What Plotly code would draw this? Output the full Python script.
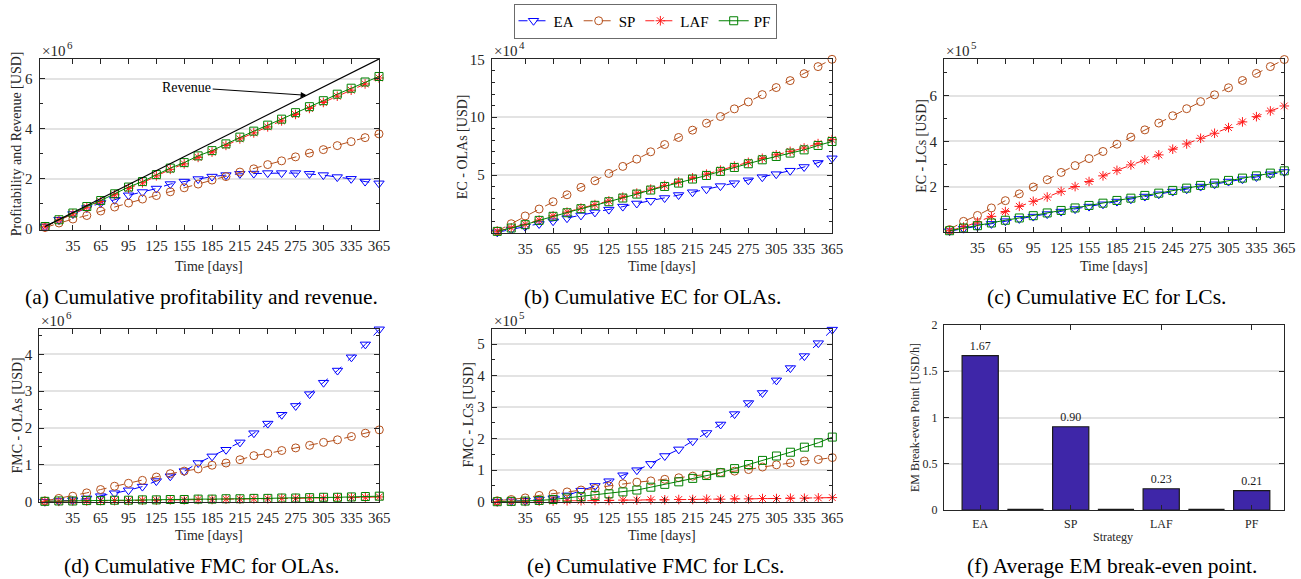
import plotly.graph_objects as go

W, H = 1301, 579
FONT = "Liberation Serif"

# ---------------- data ----------------
days = [5, 20, 35, 50, 65, 80, 95, 110, 125, 140, 155, 170, 185,
        200, 215, 230, 245, 260, 275, 290, 305, 320, 335, 350, 365]
day_ticks = [35, 65, 95, 125, 155, 185, 215, 245, 275, 305, 335, 365]
strategies = ["EA", "SP", "LAF", "PF"]

# (a) cumulative profitability, x10^6 USD
ea_a = [0.09, 0.36, 0.59, 0.83, 1.03, 1.16, 1.34, 1.47, 1.61, 1.79, 1.89, 1.99, 2.09,
        2.15, 2.20, 2.21, 2.23, 2.23, 2.23, 2.20, 2.15, 2.07, 2.00, 1.89, 1.82]
sp_a = [0.05, 0.23, 0.39, 0.53, 0.71, 0.87, 1.03, 1.19, 1.33, 1.48, 1.64, 1.79, 1.95,
        2.09, 2.27, 2.40, 2.57, 2.72, 2.88, 3.03, 3.17, 3.33, 3.49, 3.65, 3.80]
laf_a = [0.08, 0.34, 0.60, 0.86, 1.09, 1.36, 1.62, 1.84, 2.12, 2.38, 2.60, 2.86, 3.07,
         3.34, 3.60, 3.84, 4.08, 4.32, 4.58, 4.82, 5.06, 5.31, 5.55, 5.80, 6.04]
pf_a = [0.09, 0.36, 0.63, 0.89, 1.13, 1.40, 1.67, 1.89, 2.17, 2.43, 2.65, 2.92, 3.13,
        3.40, 3.67, 3.91, 4.15, 4.39, 4.65, 4.89, 5.13, 5.39, 5.63, 5.88, 6.10]
rev_days = [5, 365]
revenue = [0.09, 6.80]

# (b) cumulative EC for OLAs, x10^4 USD
ea_b = [0.06, 0.30, 0.55, 0.78, 1.02, 1.28, 1.52, 1.78, 2.02, 2.28, 2.55, 2.78, 3.02,
        3.28, 3.52, 3.78, 4.05, 4.30, 4.55, 4.82, 5.08, 5.38, 5.70, 6.05, 6.45]
sp_b = [0.17, 0.80, 1.47, 2.07, 2.70, 3.30, 3.94, 4.51, 5.14, 5.75, 6.38, 7.01, 7.64,
        8.25, 8.88, 9.48, 10.06, 10.72, 11.32, 11.95, 12.56, 13.16, 13.76, 14.37, 15.0]
laf_b = [0.15, 0.45, 0.75, 1.12, 1.48, 1.80, 2.15, 2.45, 2.77, 3.10, 3.44, 3.79, 4.11,
         4.41, 4.76, 5.08, 5.43, 5.78, 6.10, 6.45, 6.75, 7.05, 7.34, 7.72, 8.06]
pf_b = [0.14, 0.43, 0.72, 1.09, 1.44, 1.75, 2.10, 2.39, 2.70, 3.02, 3.36, 3.71, 4.02,
        4.31, 4.66, 4.97, 5.32, 5.66, 5.98, 6.32, 6.61, 6.90, 7.18, 7.56, 7.90]

# (c) cumulative EC for LCs, x10^5 USD
ea_c = [0.05, 0.16, 0.26, 0.37, 0.49, 0.59, 0.69, 0.80, 0.91, 1.02, 1.13, 1.23, 1.35,
        1.45, 1.57, 1.67, 1.79, 1.89, 2.01, 2.11, 2.23, 2.33, 2.43, 2.55, 2.65]
sp_c = [0.12, 0.48, 0.74, 1.07, 1.39, 1.69, 1.99, 2.31, 2.63, 2.93, 3.24, 3.55, 3.87,
        4.18, 4.50, 4.80, 5.12, 5.43, 5.74, 6.04, 6.35, 6.67, 6.98, 7.28, 7.59]
laf_c = [0.07, 0.23, 0.45, 0.70, 0.91, 1.14, 1.36, 1.55, 1.80, 2.01, 2.23, 2.48, 2.72,
         2.96, 3.18, 3.40, 3.65, 3.88, 4.13, 4.35, 4.60, 4.85, 5.08, 5.33, 5.55]
pf_c = [0.07, 0.19, 0.29, 0.41, 0.53, 0.63, 0.73, 0.85, 0.96, 1.07, 1.18, 1.28, 1.40,
        1.50, 1.62, 1.72, 1.84, 1.94, 2.06, 2.16, 2.28, 2.38, 2.48, 2.60, 2.70]

# (d) cumulative FMC for OLAs, x10^6 USD
ea_d = [0.00, 0.02, 0.04, 0.09, 0.15, 0.23, 0.31, 0.41, 0.56, 0.69, 0.83, 1.05, 1.23,
        1.41, 1.61, 1.86, 2.12, 2.36, 2.60, 2.92, 3.23, 3.56, 3.92, 4.27, 4.68]
sp_d = [0.02, 0.09, 0.15, 0.24, 0.33, 0.42, 0.50, 0.58, 0.67, 0.76, 0.83, 0.89, 0.99,
        1.05, 1.14, 1.25, 1.31, 1.39, 1.46, 1.53, 1.61, 1.68, 1.77, 1.86, 1.95]
laf_d = [0.01, 0.01, 0.02, 0.02, 0.03, 0.03, 0.03, 0.04, 0.04, 0.05, 0.05, 0.06, 0.06,
         0.07, 0.07, 0.08, 0.08, 0.09, 0.09, 0.10, 0.10, 0.11, 0.11, 0.12, 0.13]
pf_d = [0.01, 0.02, 0.02, 0.03, 0.03, 0.04, 0.04, 0.05, 0.05, 0.06, 0.06, 0.07, 0.07,
        0.08, 0.08, 0.09, 0.09, 0.10, 0.10, 0.11, 0.12, 0.12, 0.13, 0.14, 0.15]

# (e) cumulative FMC for LCs, x10^5 USD
ea_e = [0.00, 0.01, 0.03, 0.07, 0.11, 0.20, 0.35, 0.50, 0.65, 0.84, 1.00, 1.20, 1.45,
        1.66, 1.92, 2.18, 2.45, 2.78, 3.13, 3.45, 3.85, 4.24, 4.62, 5.03, 5.46]
sp_e = [0.03, 0.07, 0.12, 0.20, 0.25, 0.31, 0.37, 0.42, 0.50, 0.57, 0.62, 0.66, 0.71,
        0.76, 0.81, 0.86, 0.93, 0.97, 1.02, 1.10, 1.17, 1.23, 1.29, 1.34, 1.40]
laf_e = [0.00, 0.01, 0.01, 0.02, 0.02, 0.03, 0.03, 0.04, 0.04, 0.05, 0.05, 0.06, 0.06,
         0.07, 0.07, 0.08, 0.08, 0.09, 0.09, 0.10, 0.10, 0.11, 0.11, 0.12, 0.13]
pf_e = [0.00, 0.01, 0.02, 0.04, 0.07, 0.12, 0.16, 0.20, 0.25, 0.31, 0.37, 0.46, 0.55,
        0.63, 0.74, 0.83, 0.92, 1.05, 1.18, 1.31, 1.45, 1.57, 1.73, 1.87, 2.05]

# (f) average EM break-even point [USD/h]
bar_pos = [1, 2, 3, 4, 5, 6, 7]
bar_vals = [1.67, 0.0, 0.90, 0.0, 0.23, 0.0, 0.21]
bar_ticks = [1, 3, 5, 7]
bar_labels = ["EA", "SP", "LAF", "PF"]
BAR_W = 0.8

# ---------------- styles ----------------
style = {
    "EA": dict(color="#0000FF", symbol="triangle-down-open", size=9, dash="dash"),
    "SP": dict(color="#B5501C", symbol="circle-open", size=8, dash="dash"),
    "LAF": dict(color="#FF1A1A", symbol="asterisk-open", size=8, dash="dash"),
    "PF": dict(color="#008000", symbol="square-open", size=8, dash="solid"),
}


def xd(p0, p1):
    return [p0 / W, p1 / W]


def yd(p0, p1):
    return [1 - p1 / H, 1 - p0 / H]


line_panels = [
    dict(series=dict(EA=ea_a, SP=sp_a, LAF=laf_a, PF=pf_a), px=(39.5, 379), py=(59, 229.5),
         yr=[-0.03, 6.8], yt=[0, 2, 4, 6], ydt=1, exp="6", ytitle="Profitability and Revenue [USD]",
         ytx=16, caption="(a) Cumulative profitability and revenue.", cx=202),
    dict(series=dict(EA=ea_b, SP=sp_b, LAF=laf_b, PF=pf_b), px=(491.7, 832), py=(59.3, 233),
         yr=[0, 15], yt=[5, 10, 15], ydt=1, exp="4", ytitle="EC - OLAs [USD]",
         ytx=462, caption="(b) Cumulative EC for OLAs.", cx=652),
    dict(series=dict(EA=ea_c, SP=sp_c, LAF=laf_c, PF=pf_c), px=(944, 1284.3), py=(59.3, 232.3),
         yr=[0, 7.6], yt=[2, 4, 6], ydt=1, exp="5", ytitle="EC - LCs [USD]",
         ytx=922, caption="(c) Cumulative EC for LCs.", cx=1106),
    dict(series=dict(EA=ea_d, SP=sp_d, LAF=laf_d, PF=pf_d), px=(39.3, 379.3), py=(329.3, 501.7),
         yr=[0, 4.68], yt=[0, 1, 2, 3, 4], ydt=0.5, exp="6", ytitle="FMC - OLAs [USD]",
         ytx=17, caption="(d) Cumulative FMC for OLAs.", cx=202),
    dict(series=dict(EA=ea_e, SP=sp_e, LAF=laf_e, PF=pf_e), px=(491.7, 832.3), py=(329.3, 501.7),
         yr=[0, 5.47], yt=[0, 1, 2, 3, 4, 5], ydt=0.5, exp="5", ytitle="FMC - LCs [USD]",
         ytx=468, caption="(e) Cumulative FMC for LCs.", cx=655),
]

AX_COLOR = "#262626"
GRID = "#E3E3E3"

fig = go.Figure()
annotations = []
layout_axes = {}

for i, p in enumerate(line_panels, start=1):
    xa = "x" if i == 1 else f"x{i}"
    ya = "y" if i == 1 else f"y{i}"
    for s in strategies:
        st = style[s]
        fig.add_trace(go.Scatter(
            x=days, y=p["series"][s], xaxis=xa, yaxis=ya, name=s,
            mode="lines+markers", legendgroup=s, showlegend=(i == 1),
            cliponaxis=False,
            line=dict(color=st["color"], width=1, dash=st["dash"]),
            marker=dict(symbol=st["symbol"], size=st["size"], color=st["color"],
                        line=dict(color=st["color"], width=1)),
        ))
    if i == 1:
        fig.add_trace(go.Scatter(
            x=rev_days, y=revenue, xaxis=xa, yaxis=ya, mode="lines", showlegend=False,
            line=dict(color="black", width=1.2), name="Revenue"))
    kx = "xaxis" if i == 1 else f"xaxis{i}"
    ky = "yaxis" if i == 1 else f"yaxis{i}"
    layout_axes[kx] = dict(
        domain=xd(*p["px"]), anchor=ya, range=[-1, 365], tickvals=day_ticks,
        ticks="inside", ticklen=5, tickcolor=AX_COLOR, mirror="allticks", showline=True,
        linecolor=AX_COLOR, linewidth=1, showgrid=False, zeroline=False,
        tickfont=dict(family=FONT, size=15, color=AX_COLOR), ticklabelstandoff=2,
    )
    layout_axes[ky] = dict(
        domain=yd(*p["py"]), anchor=xa, range=p["yr"], tickvals=p["yt"],
        ticks="inside", ticklen=5, tickcolor=AX_COLOR, mirror="allticks", showline=True,
        linecolor=AX_COLOR, linewidth=1, showgrid=True, gridcolor=GRID, gridwidth=1.5,
        zeroline=False, tickfont=dict(family=FONT, size=15, color=AX_COLOR),
        ticklabelstandoff=3,
        minor=dict(ticks="inside", ticklen=3, dtick=p["ydt"], tickcolor=AX_COLOR, showgrid=False),
    )
    x0, x1 = p["px"]
    y0, y1 = p["py"]
    # exponent label: "×10" with a raised, smaller power digit
    annotations.append(dict(text="×10", xref="paper", yref="paper",
                            x=x0 / W, y=1 - (y0 - 8) / H, xanchor="left", yanchor="middle",
                            showarrow=False, font=dict(family=FONT, size=15, color=AX_COLOR)))
    annotations.append(dict(text=p["exp"], xref="paper", yref="paper",
                            x=(x0 + 25) / W, y=1 - (y0 - 14) / H, xanchor="left",
                            yanchor="middle", showarrow=False,
                            font=dict(family=FONT, size=11, color=AX_COLOR)))
    # y title
    annotations.append(dict(text=p["ytitle"], xref="paper", yref="paper", textangle=-90,
                            x=p["ytx"] / W, y=1 - ((y0 + y1) / 2) / H, xanchor="center",
                            yanchor="middle", showarrow=False,
                            font=dict(family=FONT, size=14, color=AX_COLOR)))
    # x title
    annotations.append(dict(text="Time [days]", xref="paper", yref="paper",
                            x=((x0 + x1) / 2) / W, y=1 - (266 if i <= 3 else 535) / H,
                            xanchor="center", yanchor="middle", showarrow=False,
                            font=dict(family=FONT, size=14, color=AX_COLOR)))
    # caption
    annotations.append(dict(text=p["caption"], xref="paper", yref="paper",
                            x=p["cx"] / W, y=1 - (297 if i <= 3 else 566) / H,
                            xanchor="center", yanchor="middle", showarrow=False,
                            font=dict(family=FONT, size=21.5, color="black")))

# Revenue arrow
arrow_day = 287
arrow_val = revenue[0] + (revenue[1] - revenue[0]) * (arrow_day - rev_days[0]) / (rev_days[1] - rev_days[0])
annotations.append(dict(text="Revenue", x=arrow_day, y=arrow_val, xref="x", yref="y",
                        ax=-120, ay=-8, showarrow=True, arrowhead=2, arrowsize=1.2,
                        arrowwidth=1, arrowcolor="black",
                        font=dict(family=FONT, size=14, color="black")))

# (f) bars: non-zero values as filled bars, zero values as flat outlines on the base line
nz = [(c, v) for c, v in zip(bar_pos, bar_vals) if v != 0]
fig.add_trace(go.Bar(
    x=[c for c, _ in nz], y=[v for _, v in nz], xaxis="x6", yaxis="y6", width=BAR_W,
    showlegend=False,
    marker=dict(color="#3E26A8", line=dict(color="#1a1a1a", width=1.2)),
    text=[f"{v:.2f}" for _, v in nz], textposition="outside",
    textfont=dict(family=FONT, size=12, color="#1a1a1a"), cliponaxis=False,
))
zx, zy = [], []
for c, v in zip(bar_pos, bar_vals):
    if v == 0:
        zx += [c - BAR_W / 2, c + BAR_W / 2, None]
        zy += [v, v, None]
fig.add_trace(go.Scatter(x=zx, y=zy, xaxis="x6", yaxis="y6", mode="lines", showlegend=False,
                         line=dict(color="#1a1a1a", width=2.5), cliponaxis=False))

fpx, fpy = (944, 1284.3), (325, 510)
layout_axes["xaxis6"] = dict(
    domain=xd(*fpx), anchor="y6", range=[0.2, 7.72], tickvals=bar_ticks, ticktext=bar_labels,
    ticks="inside", ticklen=5, tickcolor=AX_COLOR, mirror="allticks", showline=True,
    linecolor=AX_COLOR, linewidth=1, showgrid=False, zeroline=False,
    tickfont=dict(family=FONT, size=12, color=AX_COLOR), ticklabelstandoff=3,
)
layout_axes["yaxis6"] = dict(
    domain=yd(*fpy), anchor="x6", range=[0, 2], tickvals=[0, 0.5, 1, 1.5, 2],
    ticktext=["0", "0.5", "1", "1.5", "2"],
    ticks="inside", ticklen=5, tickcolor=AX_COLOR, mirror="allticks", showline=True,
    linecolor=AX_COLOR, linewidth=1, showgrid=True, gridcolor=GRID, gridwidth=1.5,
    zeroline=False, tickfont=dict(family=FONT, size=12, color=AX_COLOR), ticklabelstandoff=3,
)
annotations.append(dict(text="EM Break-even Point [USD/h]", xref="paper", yref="paper",
                        textangle=-90, x=915 / W, y=1 - 418 / H, xanchor="center",
                        yanchor="middle", showarrow=False,
                        font=dict(family=FONT, size=12, color=AX_COLOR)))
annotations.append(dict(text="Strategy", xref="paper", yref="paper", x=1113 / W, y=1 - 537 / H,
                        xanchor="center", yanchor="middle", showarrow=False,
                        font=dict(family=FONT, size=12, color=AX_COLOR)))
annotations.append(dict(text="(f) Average EM break-even point.", xref="paper", yref="paper",
                        x=1112 / W, y=1 - 566 / H, xanchor="center", yanchor="middle",
                        showarrow=False, font=dict(family=FONT, size=21.5, color="black")))

fig.update_layout(
    width=W, height=H, margin=dict(l=0, r=0, t=0, b=0, pad=0, autoexpand=False),
    paper_bgcolor="white", plot_bgcolor="white",
    font=dict(family=FONT, color=AX_COLOR),
    legend=dict(orientation="h", x=645 / W, xanchor="center", y=1 - 21 / H, yanchor="middle",
                bordercolor="#6b6b6b", borderwidth=1, bgcolor="white",
                font=dict(family=FONT, size=15, color="black"), itemwidth=30,
                tracegroupgap=0),
    annotations=annotations,
    **layout_axes,
)

fig.write_html("out.html", config={"displayModeBar": False},
               post_script="document.body.style.margin='0';document.body.style.overflow='hidden';")
